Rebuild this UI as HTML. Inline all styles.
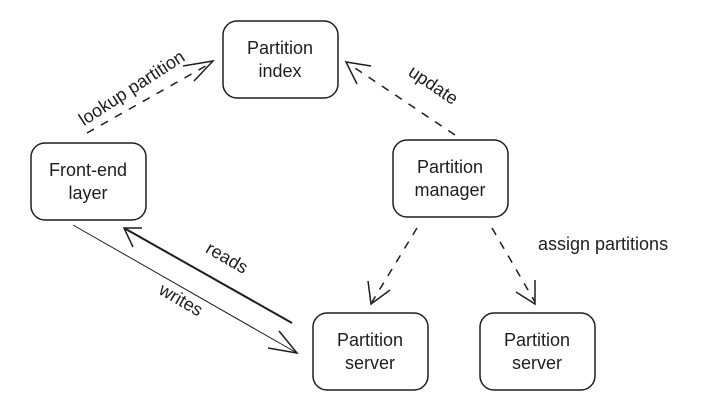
<!DOCTYPE html>
<html><head><style>
body{margin:0;background:#fff}
svg{display:block}
text{font-family:"Liberation Sans",sans-serif;font-size:18px;fill:#1e1e1e}
</style></head><body>
<svg width="728" height="414" viewBox="0 0 728 414" xmlns="http://www.w3.org/2000/svg">
<g fill="none" stroke="#1e1e1e" stroke-width="1.5">
<rect x="223" y="21" width="115" height="77" rx="14"/>
<rect x="31" y="143" width="115" height="77" rx="14"/>
<rect x="393" y="140" width="115" height="77" rx="14"/>
<rect x="313" y="313" width="115" height="77" rx="14"/>
<rect x="480" y="313" width="115" height="77" rx="14"/>
<g stroke-dasharray="8 8">
<path d="M87 133 L211 63"/>
<path d="M455 135 L349 64"/>
<path d="M417 228 L372 302"/>
<path d="M492 228 L535 302"/>
</g>
<path d="M183 66 L213 61 L194 81"/>
<path d="M357 84 L346 62 L371 66"/>
<path d="M368 281 L371 304 L390 290"/>
<path d="M516 292 L535 304 L535 280"/>
<path d="M292 323 L124 228" stroke-width="2"/>
<path d="M142 228 L124 228 L133 247"/>
<path d="M73 225 L297 353" stroke-width="1"/>
<path d="M268 348 L297 353 L279 331"/>
</g>
<g text-anchor="middle">
<text x="280" y="54">Partition</text>
<text x="280" y="77">index</text>
<text x="88" y="176">Front-end</text>
<text x="88" y="199">layer</text>
<text x="450" y="173">Partition</text>
<text x="450" y="196">manager</text>
<text x="370" y="346">Partition</text>
<text x="370" y="369">server</text>
<text x="537" y="346">Partition</text>
<text x="537" y="369">server</text>
<text transform="translate(135,93) rotate(-33)">lookup partition</text>
<text transform="translate(430,90) rotate(34)">update</text>
<text transform="translate(224,263) rotate(30)">reads</text>
<text transform="translate(178,305) rotate(30)">writes</text>
</g>
<text x="538" y="250">assign partitions</text>
</svg>
</body></html>
